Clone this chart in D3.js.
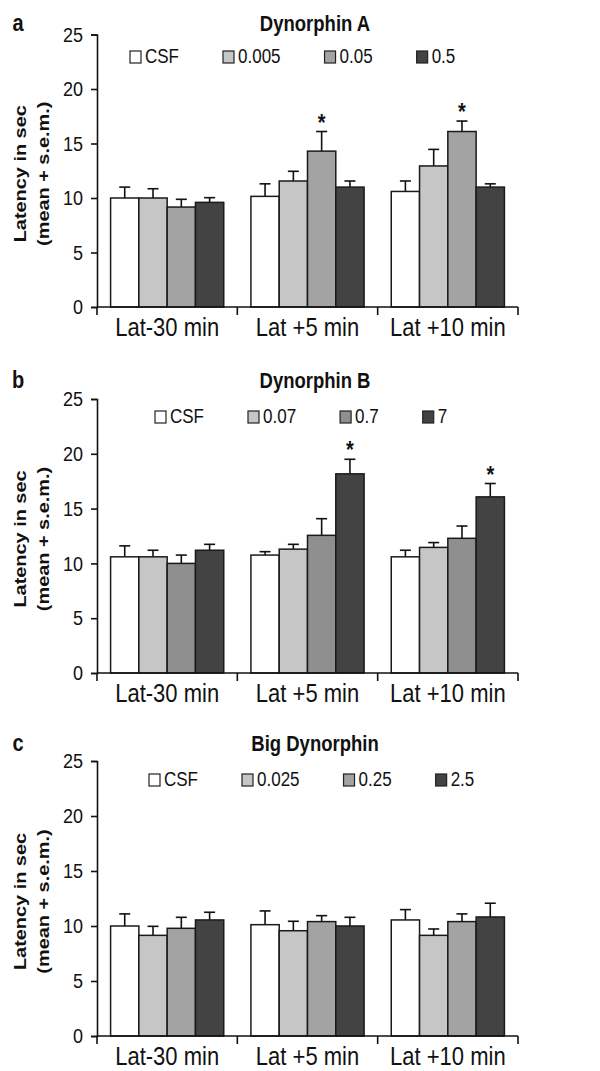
<!DOCTYPE html>
<html>
<head>
<meta charset="utf-8">
<script src="https://cdn.jsdelivr.net/npm/d3@7"></script>
<style>
  body { margin: 0; background: #fff; }
  text { font-family: "Liberation Sans", Arial, sans-serif; fill: #111; }
</style>
</head>
<body>
<div class="diagram"></div>
<script>
var width = 600, height = 1071;

// data
var categories = ["Lat-30 min", "Lat +5 min", "Lat +10 min"];
var yTicks = [0, 5, 10, 15, 20, 25];
var letters = ["a", "b", "c"];
var titles = ["Dynorphin A", "Dynorphin B", "Big Dynorphin"];

var dosesA = ["CSF", "0.005", "0.05", "0.5"];
var meansA = [[10.0, 10.0, 9.17, 9.6], [10.15, 11.56, 14.3, 11.0], [10.6, 12.94, 16.1, 11.0]];
var semA = [[1.0, 0.85, 0.71, 0.43], [1.15, 0.89, 1.8, 0.56], [0.96, 1.52, 0.96, 0.3]];
var starsA = [[1, 2], [2, 2]];

var dosesB = ["CSF", "0.07", "0.7", "7"];
var meansB = [[10.6, 10.6, 10.0, 11.2], [10.76, 11.3, 12.56, 18.17], [10.6, 11.46, 12.29, 16.07]];
var semB = [[1.0, 0.6, 0.76, 0.54], [0.31, 0.44, 1.52, 1.33], [0.6, 0.44, 1.12, 1.22]];
var starsB = [[1, 3], [2, 3]];

var dosesC = ["CSF", "0.025", "0.25", "2.5"];
var meansC = [[10.0, 9.15, 9.79, 10.55], [10.12, 9.57, 10.4, 10.0], [10.55, 9.15, 10.4, 10.82]];
var semC = [[1.1, 0.82, 1.0, 0.7], [1.25, 0.86, 0.54, 0.79], [0.94, 0.58, 0.7, 1.25]];
var starsC = [];

// layout
var sy = 1.17; // the scan is stretched vertically
var xLeft = 97, xRight = 518;
var panels = [
  { doses: dosesA, means: meansA, sem: semA, stars: starsA, y0: 307, y25: 34.5, titleY: 25, legendY: 57, legendX: 130,
    fills: ["#ffffff", "#c6c6c6", "#a3a3a3", "#434343"] },
  { doses: dosesB, means: meansB, sem: semB, stars: starsB, y0: 673, y25: 399, titleY: 382, legendY: 417, legendX: 155,
    fills: ["#ffffff", "#c6c6c6", "#8f8f8f", "#434343"] },
  { doses: dosesC, means: meansC, sem: semC, stars: starsC, y0: 1036, y25: 761, titleY: 745, legendY: 780, legendX: 149,
    fills: ["#ffffff", "#c6c6c6", "#a3a3a3", "#434343"] }
];

var svg = d3.select('.diagram')
  .append('svg')
  .attr('width', width)
  .attr('height', height);

function stretched(sel, x, y, extra) {
  return sel.attr('transform', 'translate(' + x + ',' + y + ') scale(1,' + sy + ')' + (extra || ''));
}

var x0 = d3.scaleBand().domain(categories).range([xLeft, xRight]).paddingInner(0).paddingOuter(0);

panels.forEach(function(p, pi) {
  var g = svg.append('g').attr('class', 'panel');

  var y = d3.scaleLinear().domain([0, 25]).range([p.y0, p.y25]);
  var x1 = d3.scaleBand().domain(d3.range(p.doses.length))
    .range([0, x0.bandwidth()]).paddingInner(0).paddingOuter(0.48);

  // panel letter + title
  stretched(g.append('text'), 18, p.titleY + 6, '')
    .attr('text-anchor', 'middle')
    .style('font-size', '20px').style('font-weight', 'bold')
    .text(letters[pi]);
  stretched(g.append('text'), 315, p.titleY + 6, '')
    .attr('text-anchor', 'middle')
    .style('font-size', '18.5px').style('font-weight', 'bold')
    .text(titles[pi]);

  // y label
  var yc = (p.y0 + p.y25) / 2 + 3;
  stretched(g.append('text'), 26, yc, ' rotate(-90)')
    .attr('text-anchor', 'middle')
    .style('font-size', '17px').style('font-weight', 'bold')
    .text('Latency in sec');
  stretched(g.append('text'), 49, yc, ' rotate(-90)')
    .attr('text-anchor', 'middle')
    .style('font-size', '17px').style('font-weight', 'bold')
    .text('(mean + s.e.m.)');

  // y axis
  var yAxis = g.append('g')
    .attr('transform', 'translate(' + xLeft + ',0)')
    .call(d3.axisLeft(y).tickValues(yTicks).tickSize(6).tickPadding(8));
  yAxis.select('.domain').attr('stroke', '#111').attr('stroke-width', 1.6);
  yAxis.selectAll('.tick line').attr('stroke', '#111').attr('stroke-width', 1.6);
  yAxis.selectAll('.tick text')
    .attr('transform', 'scale(1,' + sy + ')')
    .style('font-size', '18px').style('font-family', '"Liberation Sans", Arial, sans-serif')
    .attr('fill', '#111');

  // bars
  var groups = g.append('g').selectAll('.group')
    .data(p.means)
    .enter().append('g')
    .attr('class', 'group')
    .attr('transform', function(d, i) { return 'translate(' + x0(categories[i]) + ',0)'; });

  groups.each(function(row, ci) {
    var gg = d3.select(this);
    row.forEach(function(v, si) {
      var cx = x1(si) + x1.bandwidth() / 2;
      var top = y(v + p.sem[ci][si]);
      gg.append('line')
        .attr('x1', cx).attr('x2', cx)
        .attr('y1', y(v)).attr('y2', top)
        .attr('stroke', '#111').attr('stroke-width', 1.6);
      gg.append('line')
        .attr('x1', cx - 5.5).attr('x2', cx + 5.5)
        .attr('y1', top).attr('y2', top)
        .attr('stroke', '#111').attr('stroke-width', 1.6);
    });
    gg.selectAll('rect')
      .data(row)
      .enter().append('rect')
      .attr('x', function(d, si) { return x1(si); })
      .attr('y', function(d) { return y(d); })
      .attr('width', x1.bandwidth())
      .attr('height', function(d) { return y(0) - y(d); })
      .attr('fill', function(d, si) { return p.fills[si]; })
      .attr('stroke', '#1a1a1a')
      .attr('stroke-width', 1.5);
  });

  // significance stars
  p.stars.forEach(function(s) {
    var ci = s[0], si = s[1];
    var v = p.means[ci][si] + p.sem[ci][si];
    stretched(g.append('text'), x0(categories[ci]) + x1(si) + x1.bandwidth() / 2, y(v) - 1, '')
      .attr('text-anchor', 'middle')
      .style('font-size', '20px').style('font-weight', 'bold')
      .text('*');
  });

  // x axis
  g.append('line')
    .attr('x1', xLeft).attr('x2', xRight)
    .attr('y1', y(0)).attr('y2', y(0))
    .attr('stroke', '#111').attr('stroke-width', 1.6);
  var edges = categories.map(function(c) { return x0(c); }).concat([xRight]);
  g.selectAll('.xtick')
    .data(edges)
    .enter().append('line')
    .attr('class', 'xtick')
    .attr('x1', function(d) { return d; }).attr('x2', function(d) { return d; })
    .attr('y1', y(0)).attr('y2', y(0) + 8)
    .attr('stroke', '#111').attr('stroke-width', 1.6);
  categories.forEach(function(c) {
    stretched(g.append('text'), x0(c) + x0.bandwidth() / 2, y(0) + 29, '')
      .attr('text-anchor', 'middle')
      .style('font-size', '22px')
      .text(c);
  });

  // legend
  var lx = p.legendX;
  p.doses.forEach(function(d, si) {
    g.append('rect')
      .attr('x', lx).attr('y', p.legendY - 6)
      .attr('width', 11).attr('height', 12)
      .attr('fill', p.fills[si])
      .attr('stroke', '#222').attr('stroke-width', 1.2);
    var t = stretched(g.append('text'), lx + 15, p.legendY + 6, '')
      .style('font-size', '17px')
      .text(d);
    lx += 15 + t.node().getComputedTextLength() + 44;
  });
});
</script>
</body>
</html>
